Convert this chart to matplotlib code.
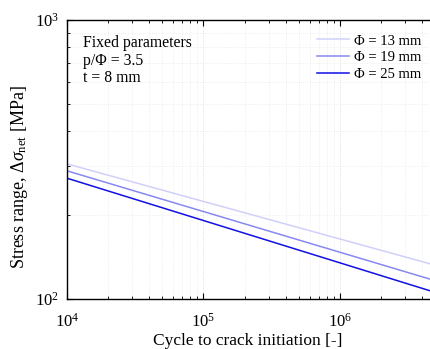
import matplotlib
matplotlib.use("Agg")
import matplotlib.pyplot as plt
from matplotlib.ticker import LogLocator, NullFormatter

plt.rcParams['font.family'] = ['Liberation Serif', 'DejaVu Serif']
plt.rcParams['mathtext.fontset'] = 'custom'
plt.rcParams['mathtext.rm'] = 'Liberation Serif'
plt.rcParams['mathtext.it'] = 'Liberation Serif:italic'
plt.rcParams['mathtext.bf'] = 'Liberation Serif:bold'

cycles = [1e4, 4.6e6]
labels = ['Φ = 13 mm', 'Φ = 19 mm', 'Φ = 25 mm']
stress_13 = [305, 133.6]
stress_19 = [288, 117.7]
stress_25 = [271, 106.9]
colors = ['#d0d0fa', '#8888f2', '#1010e6']

fig = plt.figure(figsize=(4.30, 3.49), dpi=100)
ax = fig.add_axes([67/430, 1 - 299/349, (435.4 - 67)/430, (299 - 20)/349])

for s, lab, c in zip([stress_13, stress_19, stress_25], labels, colors):
    ax.plot(cycles, s, color=c, lw=1.1, label=lab)

ax.set_xscale('log')
ax.set_yscale('log')
ax.set_xlim(1e4, 5e6)
ax.set_ylim(1e2, 1e3)
ax.xaxis.set_minor_locator(LogLocator(base=10, subs=range(2, 10)))
ax.yaxis.set_minor_locator(LogLocator(base=10, subs=range(2, 10)))
ax.yaxis.set_minor_formatter(NullFormatter())
ax.xaxis.set_minor_formatter(NullFormatter())
ax.tick_params(which='both', direction='in', top=True, right=True, labelsize=12)
ax.tick_params(axis='x', which='major', pad=10)
ax.tick_params(axis='y', which='major', pad=6)
ax.tick_params(which='major', length=4, width=0.8)
ax.tick_params(which='minor', length=2.5, width=0.6)
for lab in ax.get_yticklabels():
    lab.set_va('center_baseline')
ax.grid(True, which='major', color='#d8d8d8', ls=':', lw=0.6)
ax.grid(True, which='minor', color='#e6e6e6', ls=':', lw=0.5)
for sp in ax.spines.values():
    sp.set_linewidth(1.0)

ax.set_xlabel('Cycle to crack initiation [-]', fontsize=12.5)
ax.set_ylabel(r'Stress range, $\Delta\sigma_{\rm net}$ [MPa]', fontsize=13)
ax.xaxis.set_label_coords((248 - 67) / 368.4, -(345 - 299) / 279, transform=ax.transAxes)
ax.xaxis.label.set_va('baseline')
ax.yaxis.set_label_coords(-(67 - 20) / 368.4, (299 - 177) / 279)
ax.yaxis.label.set_va('center')

ax.text(0.043, 0.945, 'Fixed parameters\np/Φ = 3.5\nt = 8 mm', transform=ax.transAxes,
        fontsize=11.3, va='top', ha='left', linespacing=1.12)

leg = ax.legend(loc='upper right', bbox_to_anchor=(0.985, 0.98), frameon=False, fontsize=10.5,
                handlelength=2.25, handletextpad=0.3, labelspacing=0.25, borderaxespad=0.2)

fig.savefig('out.png', dpi=100)
